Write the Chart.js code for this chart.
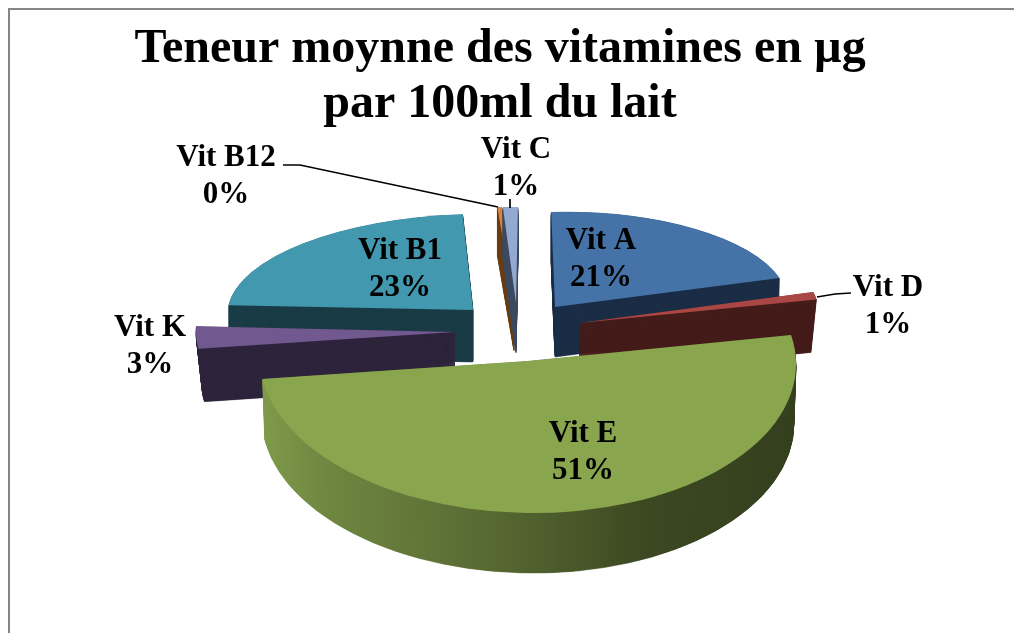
<!DOCTYPE html>
<html><head><meta charset="utf-8">
<script src="https://cdn.jsdelivr.net/npm/chart.js@4"></script>
<style>
html,body{margin:0;padding:0;background:#fff;overflow:hidden}
#frame{position:absolute;left:8px;top:8px;width:1010px;height:630px;border-left:2px solid #868686;border-top:2px solid #868686;box-sizing:border-box}
#wrap{position:absolute;left:0;top:0;width:1000px;height:633px}
</style></head><body>
<div id="frame"></div>
<div id="wrap"><canvas id="c" width="1000" height="633"></canvas></div>
<script>
const titleLines = ["Teneur moynne des vitamines en µg", "par 100ml du lait"];
const categories = ["Vit A", "Vit D", "Vit E", "Vit K", "Vit B1", "Vit B12", "Vit C"];
const values = [21, 1, 51, 3, 23, 0.3, 1];
const topColors = ["#4573a7", "#aa4643", "#89a54e", "#71588f", "#4198af", "#db843d", "#93a9cf"];
const wallColors = ["#1b2e46", "#441c1a", null, "#2e243c", "#1a3c46", "#6a3f15", "#3d4a62"];

// Per-slice placement of the 3D look (exploded, with perspective): centre, radii, depth, shear, wall taper
const explode = [
  {x:555,y:307,rx:233,ry:95,depth:50,tilt:-0.022,lean:0.04,taper:0.005},
  {x:579,y:323,rx:242,ry:123,depth:53,tilt:0,lean:0,taper:0.023},
  {x:528,y:361,rx:268,ry:152,depth:60,tilt:0.012,lean:0,taper:0.008},
  {x:455,y:332,rx:259,ry:120,depth:53,tilt:0,lean:0,taper:0.023},
  {x:473,y:310,rx:245,ry:96,depth:52,tilt:0,lean:-0.1,taper:0},
  {x:514,y:303,rx:240,ry:96,depth:48,tilt:0,lean:-0.03,taper:0},
  {x:516,y:303,rx:240,ry:96,depth:50,tilt:0,lean:-0.02,taper:0}
];
const paintOrder = [0, 4, 5, 6, 1, 3, 2];
const labelAnchors = [[601,241],[888,288],[583,434],[150,328],[400,251],[226,158],[516,150]];
const labelLineGap = 37;
const leaders = [
  [[283,165],[300,165],[498,207]],
  [[510,199],[510,208]],
  [[817,297],[835,294],[851,293]]
];
const eWallStops = [[0,"#7f9b4a"],[0.12,"#6f8741"],[0.45,"#566731"],[0.72,"#3c4821"],[1,"#343f1e"]];

const pie3d = {
  id:"pie3d",
  beforeDatasetDraw(chart){
    const ctx = chart.ctx, arcs = chart.getDatasetMeta(0).data;
    paintOrder.forEach(i=>{
      const el = arcs[i], p = explode[i], R = el.outerRadius, base = el.options;
      const place = d=>{
        const shrink = 1 - p.taper*d/p.depth;
        ctx.save();
        ctx.translate(p.x, p.y + d);
        ctx.transform(1, p.tilt, p.lean, 1, 0, 0);
        ctx.scale(shrink*p.rx/R, p.ry/R);
        ctx.translate(-el.x, -el.y);
      };
      let wall = wallColors[i];
      if(!wall){
        wall = ctx.createLinearGradient(el.x-R,0,el.x+R,0);
        eWallStops.forEach(s=>wall.addColorStop(s[0],s[1]));
      }
      el.options = Object.assign({}, base, {backgroundColor:wall, borderColor:wall, borderWidth:0.6, borderAlign:"center"});
      for(let d=p.depth; d>=0.5; d-=0.5){ place(d); el.draw(ctx); ctx.restore(); }
      el.options = base;
      place(0); el.draw(ctx); ctx.restore();
    });
    return false;
  },
  afterDraw(chart){
    const ctx = chart.ctx;
    ctx.save();
    ctx.strokeStyle="#000"; ctx.lineWidth=1.7;
    leaders.forEach(l=>{
      ctx.beginPath();
      l.forEach((pt,i)=> i? ctx.lineTo(pt[0],pt[1]) : ctx.moveTo(pt[0],pt[1]));
      ctx.stroke();
    });
    const total = values.reduce((a,b)=>a+b,0);
    ctx.fillStyle="#000"; ctx.textAlign="center"; ctx.textBaseline="middle";
    ctx.font='bold 31px "Liberation Serif"';
    categories.forEach((c,i)=>{
      const a = labelAnchors[i];
      ctx.fillText(c,a[0],a[1]);
      ctx.fillText(Math.round(values[i]/total*100)+"%",a[0],a[1]+labelLineGap);
    });
    ctx.restore();
  }
};

new Chart(document.getElementById("c"),{
  type:"pie",
  data:{labels:categories,datasets:[{data:values,backgroundColor:topColors,borderWidth:0,hoverOffset:0,clip:false}]},
  plugins:[pie3d],
  options:{
    responsive:false,animation:false,events:[],
    layout:{padding:{top:0,bottom:40}},
    plugins:{
      legend:{display:false},tooltip:{enabled:false},
      title:{display:true,text:titleLines,color:"#000",padding:{top:22,bottom:10},
        font:{family:'"Liberation Serif"',size:48,weight:"bold",lineHeight:1.15}}
    }
  }
});
</script>
</body></html>
